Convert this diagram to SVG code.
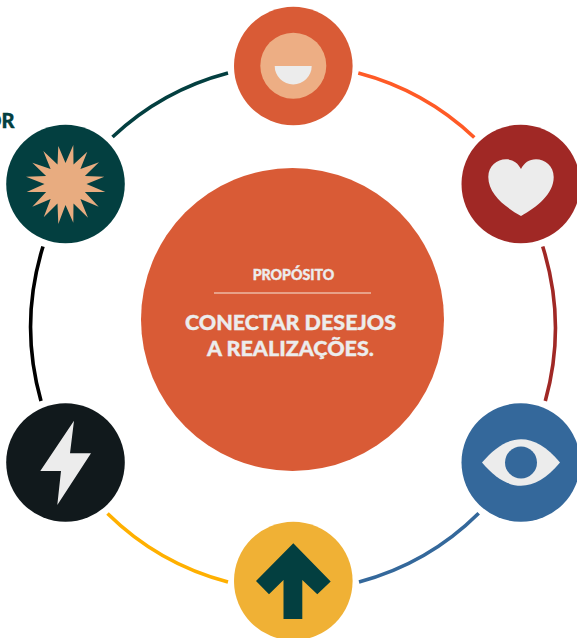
<svg xmlns="http://www.w3.org/2000/svg" width="577" height="638" viewBox="0 0 577 638">
<style>
.t{font-family:"Lato","Liberation Sans",sans-serif;text-anchor:middle;fill:#ececec;stroke:#ececec;stroke-width:.35;font-weight:900}
.c{fill:none;stroke-width:3.6}
.i{fill:#ececec}
</style>
<rect width="577" height="638" fill="#fff"/>
<g id="connectors">
<path class="c" stroke="#033f40" d="M112.500 137 A268 268 0 0 1 228 73"/>
<path class="c" stroke="#ff5a26" d="M358.300 73 A268 268 0 0 1 474.300 137.500"/>
<path class="c" stroke="#a02825" d="M542.700 246.500 A272 272 0 0 1 545.300 401"/>
<path class="c" stroke="#34689b" d="M478.700 513.300 A268 268 0 0 1 359 582"/>
<path class="c" stroke="#ffb000" d="M228 582 A268 268 0 0 1 107.500 513.500"/>
<path class="c" stroke="#000" d="M41 401 A272 272 0 0 1 43 246.500"/>
</g>
<g id="node-proposito">
<circle cx="292.500" cy="319.500" r="151.500" fill="#d95b36"/>
<text class="t" x="293.500" y="280" font-size="14.200">PROPÓSITO</text>
<line x1="214" y1="293" x2="371" y2="293" stroke="#ecb9a5" stroke-width="1.500"/>
<text class="t" x="290.500" y="330" font-size="21.500">CONECTAR DESEJOS</text>
<text class="t" x="290.500" y="356" font-size="21.500">A REALIZAÇÕES.</text>
</g>
<g id="node-face">
<circle cx="293.300" cy="66" r="59.300" fill="#d95b36"/>
<circle cx="293.300" cy="65.700" r="33" fill="#edae84"/>
<path class="i" d="M274.700 66 H311.700 A18.500 18.500 0 0 1 274.700 66Z"/>
</g>
<g id="node-heart">
<circle cx="520.800" cy="184" r="59.300" fill="#a02825"/>
<path class="i" d="M521 216 C505 207 488.300 194 488.300 177 C488.300 166 497 159.300 506 159.300 C513 159.300 518 163 521 169 C524 163 529 159.300 536 159.300 C545 159.300 553.700 166 553.700 177 C553.700 194 537 207 521 216Z"/>
</g>
<g id="node-eye">
<circle cx="520.800" cy="462.500" r="59.300" fill="#34689b"/>
<path class="i" d="M482 462.500 C495 447 508 439.300 521 439.300 C534 439.300 547 447 560 462.500 C547 478 534 485.700 521 485.700 C508 485.700 495 478 482 462.500Z"/>
<circle cx="521" cy="462.500" r="16" fill="#34689b"/>
</g>
<g id="node-arrow">
<circle cx="293.300" cy="581" r="59.300" fill="#f0b135"/>
<polygon fill="#033f40" points="293.300,543.300 330.700,581.500 317.300,594.300 302.300,580 302.300,619 283.500,619 283.500,580 269,594.300 256,581"/>
</g>
<g id="node-bolt">
<circle cx="65.500" cy="462.500" r="59.300" fill="#11191c"/>
<polygon class="i" points="74,420.700 70,453.300 91,453.300 57.300,505 61,471 40.300,471"/>
</g>
<g id="node-star">
<circle cx="65.500" cy="184" r="59.300" fill="#033f40"/>
<polygon fill="#e8ac80" points="58.300,146 65.500,163 73.300,145 73.500,164.600 87.300,151.700 80.400,169.100 99,162.300 84.900,176 104.300,176.700 86.500,184 105.300,192 84.900,192 98.700,206.700 80.400,198.900 88,217.700 73.500,203.400 73.300,222.700 65.500,205 58.300,224 57.500,203.400 43.700,217.300 50.600,198.900 32.300,206.700 46.100,192 26.700,192 44.500,184 26,176.700 46.100,176 32.300,162.700 50.600,169.100 43.300,151 57.500,164.600"/>
<text x="14.500" y="128" font-size="20" text-anchor="end" font-family="Lato,'Liberation Sans',sans-serif" font-weight="900" fill="#033f40" stroke="#033f40" stroke-width=".4">OR</text>
</g>
</svg>
